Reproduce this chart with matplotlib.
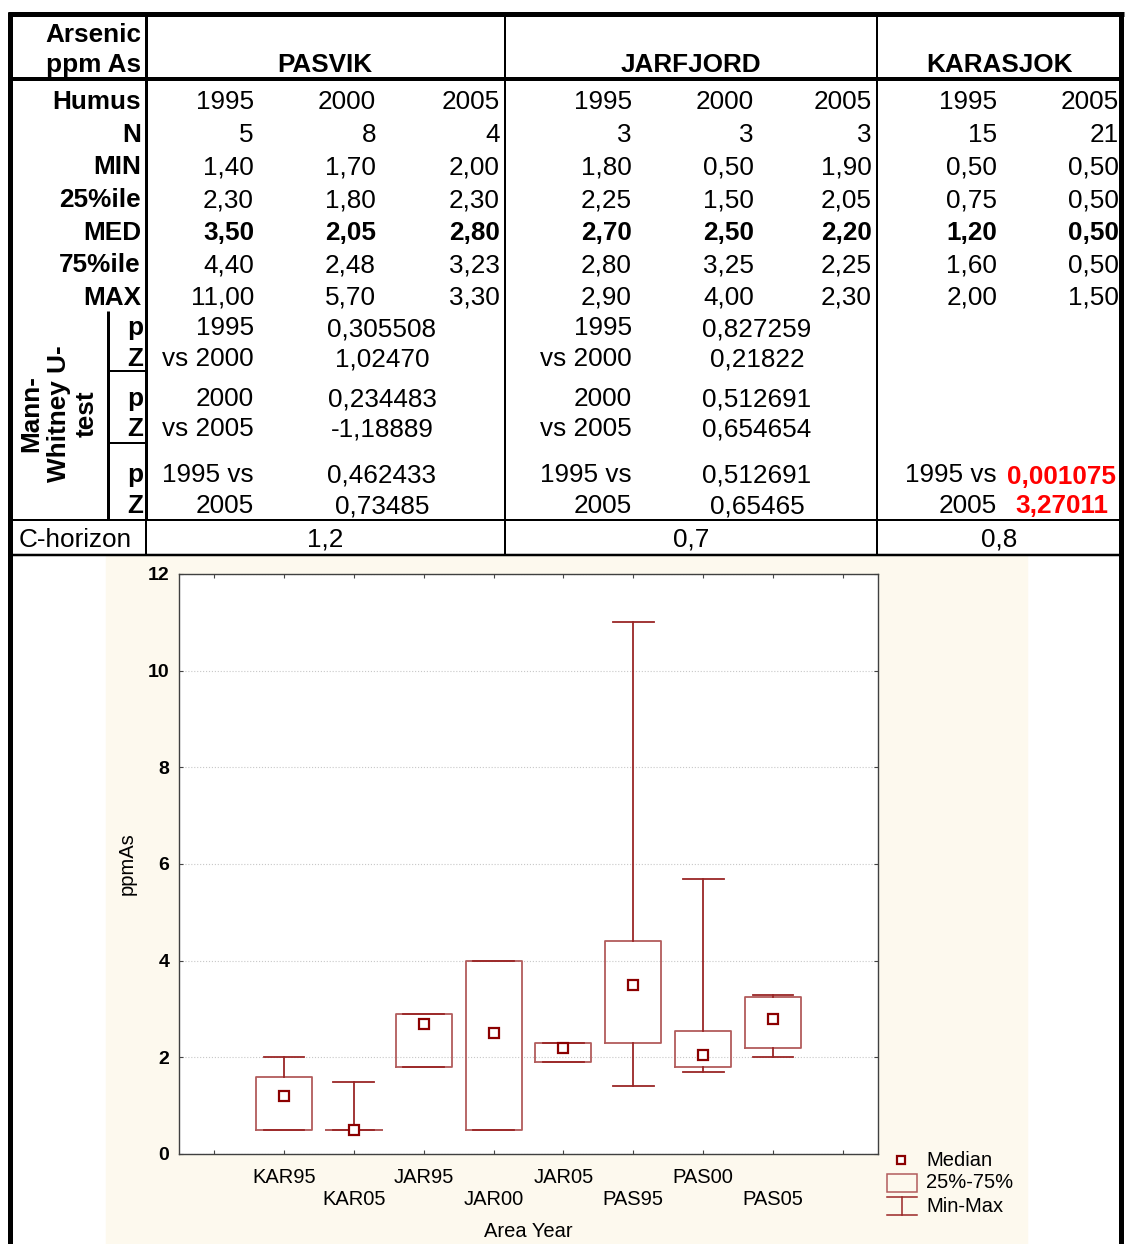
import matplotlib
matplotlib.use('Agg')
import matplotlib.pyplot as plt
from matplotlib.patches import Rectangle

plt.rcParams['font.family'] = ['Liberation Sans', 'DejaVu Sans']

# ---- table data ----
regions = ['PASVIK', 'JARFJORD', 'KARASJOK']
years = ['1995', '2000', '2005', '1995', '2000', '2005', '1995', '2005']
stat_names = ['N', 'MIN', '25%ile', 'MED', '75%ile', 'MAX']
n_vals = ['5', '8', '4', '3', '3', '3', '15', '21']
min_vals = ['1,40', '1,70', '2,00', '1,80', '0,50', '1,90', '0,50', '0,50']
q25_vals = ['2,30', '1,80', '2,30', '2,25', '1,50', '2,05', '0,75', '0,50']
med_vals = ['3,50', '2,05', '2,80', '2,70', '2,50', '2,20', '1,20', '0,50']
q75_vals = ['4,40', '2,48', '3,23', '2,80', '3,25', '2,25', '1,60', '0,50']
max_vals = ['11,00', '5,70', '3,30', '2,90', '4,00', '2,30', '2,00', '1,50']

mw_pairs = [['1995', 'vs 2000'], ['2000', 'vs 2005'], ['1995 vs', '2005']]
mw_pasvik = [['0,305508', '1,02470'], ['0,234483', '-1,18889'], ['0,462433', '0,73485']]
mw_jarfjord = [['0,827259', '0,21822'], ['0,512691', '0,654654'], ['0,512691', '0,65465']]
mw_karasjok = [None, None, ['0,001075', '3,27011']]
c_horizon = ['1,2', '0,7', '0,8']

# ---- box plot data ----
cats = ['KAR95', 'KAR05', 'JAR95', 'JAR00', 'JAR05', 'PAS95', 'PAS00', 'PAS05']
box_min = [0.5, 0.5, 1.8, 0.5, 1.9, 1.4, 1.7, 2.0]
box_q1 = [0.5, 0.5, 1.8, 0.5, 1.9, 2.3, 1.8, 2.2]
box_med = [1.2, 0.5, 2.7, 2.5, 2.2, 3.5, 2.05, 2.8]
box_q3 = [1.6, 0.5, 2.9, 4.0, 2.3, 4.4, 2.55, 3.25]
box_max = [2.0, 1.5, 2.9, 4.0, 2.3, 11.0, 5.7, 3.3]

W, H = 1125, 1244
fig = plt.figure(figsize=(W / 100, H / 100), dpi=100)

# overlay in pixel coordinates for the table
tb = fig.add_axes([0, 0, 1, 1])
tb.set_xlim(0, W)
tb.set_ylim(H, 0)
tb.axis('off')

FS = 18.8
CFS = 14.5
box_col = '#B25C5C'
whisk_col = '#9A2626'
med_col = '#8B0000'


def put(x, y, s, ha='right', bold=False, color='black', size=FS):
    tb.text(x, y, s, ha=ha, va='baseline', fontsize=size, color=color,
            fontweight='bold' if bold else 'normal')


def hl(y, x0, x1, px):
    tb.plot([x0, x1], [y, y], color='black', lw=px * 0.72, solid_capstyle='butt')


def vl(x, y0, y1, px):
    tb.plot([x, x], [y0, y1], color='black', lw=px * 0.72, solid_capstyle='butt')


# chart background
tb.add_patch(Rectangle((106, 556), 921, 688, color='#FDF9EE', zorder=0))

# lines of the table
hl(14, 8, 1124, 5)
vl(10, 12, H, 5)
vl(1121, 12, H, 5)
hl(78.7, 10, 1121, 4)
vl(145.5, 14, 520, 3)
vl(145.5, 520, 555, 2)
vl(505, 14, 555, 2)
vl(877, 14, 555, 2)
vl(108, 311, 520, 3)
hl(371, 108, 145.5, 2)
hl(443, 108, 145.5, 2)
hl(520, 10, 1121, 2)
hl(555, 10, 1121, 2.5)

region_x = [(145.5 + 505) / 2, (505 + 877) / 2, (877 + 1121) / 2]
col_right = [254, 376, 500, 632, 754, 872, 997, 1119]

# header
put(141, 41.7, 'Arsenic', bold=True)
put(141, 72, 'ppm As', bold=True)
for cx, name in zip(region_x, regions):
    put(cx, 72, name, ha='center', bold=True)

# statistics block
row0 = 109.3
step = 32.6
put(141, row0, 'Humus', bold=True)
for x, yr in zip(col_right, years):
    put(x, row0, yr)
stat_rows = [n_vals, min_vals, q25_vals, med_vals, q75_vals, max_vals]
for i, (name, vals) in enumerate(zip(stat_names, stat_rows)):
    y = row0 + step * (i + 1)
    put(141, y, name, bold=True)
    for x, v in zip(col_right, vals):
        put(x, y, v, bold=(name == 'MED'))

# Mann-Whitney block
tb.text(59, 414, 'Mann-\nWhitney U-\ntest', rotation=90, ha='center', va='center',
        multialignment='center', fontsize=FS, fontweight='bold')
pair_y = [(335, 365.5), (406, 436), (482, 512.7)]
for k, (yp, yz) in enumerate(pair_y):
    put(143, yp, 'p', bold=True)
    put(143, yz, 'Z', bold=True)
    put(254, yp, mw_pairs[k][0])
    put(254, yz, mw_pairs[k][1])
    put(382, yp + 1, mw_pasvik[k][0], ha='center')
    put(382, yz + 1, mw_pasvik[k][1], ha='center')
    put(632, yp, mw_pairs[k][0])
    put(632, yz, mw_pairs[k][1])
    put(757, yp + 1, mw_jarfjord[k][0], ha='center')
    put(757, yz + 1, mw_jarfjord[k][1], ha='center')
    if mw_karasjok[k] is not None:
        put(997, yp, mw_pairs[k][0])
        put(997, yz, mw_pairs[k][1])
        put(1062, yp + 2, mw_karasjok[k][0], ha='center', bold=True, color='#FF0000')
        put(1062, yz, mw_karasjok[k][1], ha='center', bold=True, color='#FF0000')

# C-horizon row
put(19, 547, 'C-horizon', ha='left')
for cx, v in zip(region_x, c_horizon):
    put(cx, 547, v, ha='center')

# ---- box plot ----
ax = fig.add_axes([179 / W, (H - 1154) / H, 699 / W, 580 / H])
stats = []
for lo, a, m, b, hi in zip(box_min, box_q1, box_med, box_q3, box_max):
    stats.append({'whislo': lo, 'q1': a, 'med': m, 'q3': b, 'whishi': hi, 'fliers': []})
pos = list(range(1, len(cats) + 1))
ax.bxp(stats, positions=pos, widths=0.8, capwidths=0.58, showfliers=False,
       boxprops=dict(color=box_col, lw=1.3),
       whiskerprops=dict(color=whisk_col, lw=1.3),
       capprops=dict(color=whisk_col, lw=1.3),
       medianprops=dict(linewidth=0))
ax.plot(pos, box_med, 's', ms=6.5, mfc='white', mec=med_col, mew=1.6, zorder=5)

ax.set_xlim(-0.5, len(cats) + 1.5)
ax.set_ylim(0, 12)
ax.set_yticks(range(0, 13, 2))
ax.set_xticks(range(0, len(cats) + 2))
ax.set_xticklabels([''] + cats + [''], fontsize=CFS)
for i, t in enumerate(ax.xaxis.get_major_ticks()):
    t.set_pad(10 if i % 2 == 1 else 26)
for lab in ax.get_yticklabels():
    lab.set_fontweight('bold')
    lab.set_fontsize(14)
ax.tick_params(direction='in', length=3, width=0.8, color='#444444',
               top=True, right=True)
ax.tick_params(axis='y', pad=7)
ax.yaxis.grid(True, linestyle=':', color='#C8C8C8', lw=0.8)
ax.set_axisbelow(True)
for sp in ax.spines.values():
    sp.set_color('#404040')
    sp.set_linewidth(1)
ax.set_ylabel('ppmAs', fontsize=CFS)
ax.yaxis.set_label_coords(-0.06, 0.5)
ax.set_xlabel('Area Year', fontsize=CFS)
ax.xaxis.set_label_coords(0.5, -0.118)

# legend (pixel coordinates)
tb.add_patch(Rectangle((897, 1156), 8, 8, fc='white', ec=med_col, lw=1.6, zorder=3))
tb.add_patch(Rectangle((887, 1174), 30, 17.5, fc='none', ec=box_col, lw=1.1, zorder=3))
tb.plot([887, 917], [1197, 1197], color=whisk_col, lw=1.1)
tb.plot([902, 902], [1197, 1215], color=whisk_col, lw=1.1)
tb.plot([887, 917], [1215, 1215], color=whisk_col, lw=1.1)
tb.text(926, 1160, 'Median', ha='left', va='center', fontsize=CFS)
tb.text(926, 1183, '25%-75%', ha='left', va='center', fontsize=CFS)
tb.text(926, 1206, 'Min-Max', ha='left', va='center', fontsize=CFS)

fig.savefig('out.png', dpi=100)
